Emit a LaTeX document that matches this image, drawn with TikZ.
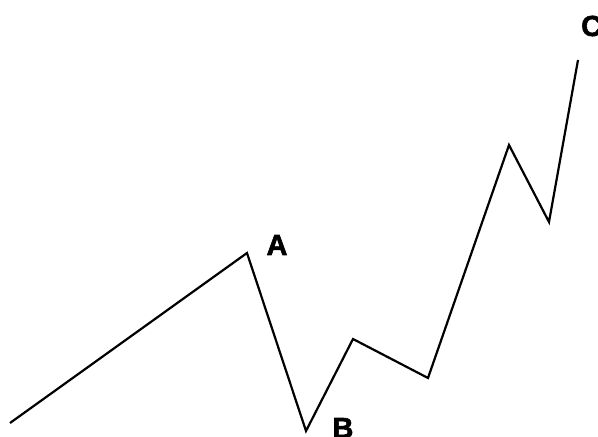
\documentclass[tikz,border=0pt]{standalone}
\usepackage{fontspec}
\setmainfont{Liberation Sans}
\newfontfamily\lblfont[FakeBold=2]{Liberation Sans Bold}
\begin{document}
\begin{tikzpicture}[x=1pt,y=1pt,
  wave/.style={line width=2.2pt,line join=miter,line cap=butt},
  lbl/.style={font=\lblfont\fontsize{29}{31}\selectfont,inner sep=0pt}]
\useasboundingbox (0,0) rectangle (598,437);
\coordinate (p0) at (10,14);
\coordinate (pA) at (247,184);
\coordinate (pB) at (306,6);
\coordinate (p3) at (353,98);
\coordinate (p4) at (428,59);
\coordinate (p5) at (509,292);
\coordinate (p6) at (549,215);
\coordinate (pC) at (578,377);
\draw[wave] (p0) -- (pA) -- (pB) -- (p3) -- (p4) -- (p5) -- (p6) -- (pC);
\node[lbl] (A) at (277,192) {A};
\node[lbl] (B) at (343,9) {B};
\node[lbl,anchor=west] (C) at (581,411) {C};
\end{tikzpicture}
\end{document}
